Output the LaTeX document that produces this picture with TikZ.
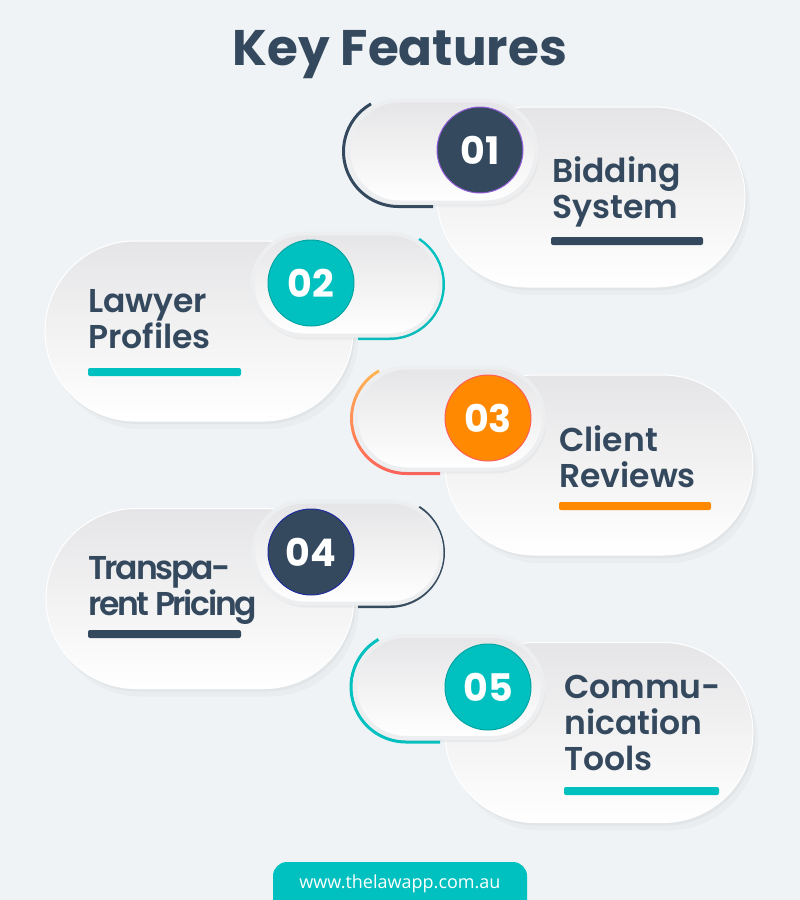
\documentclass[tikz,border=0pt]{standalone}
\usepackage{fontspec}
\setmainfont{Poppins}[BoldFont={Poppins Bold}]
\newfontfamily\semibold{Poppins SemiBold}
\newfontfamily\sitefont{Open Sans}
\usepackage{tikz}
\usetikzlibrary{shapes.misc,shadows}
\definecolor{backgr}{RGB}{240,243,246}
\definecolor{slate}{RGB}{52,73,94}
\definecolor{turq}{RGB}{0,193,191}
\definecolor{amber}{RGB}{255,137,0}
\definecolor{pillgray}{RGB}{229,229,231}
\definecolor{ringgray}{RGB}{236,238,240}
\definecolor{peach}{RGB}{255,190,85}
\definecolor{coral}{RGB}{255,94,90}
\definecolor{lilac}{RGB}{150,95,220}
\tikzset{>=stealth}
\tikzset{
  bigpill/.style={rounded rectangle, minimum width=308pt, minimum height=180pt, inner sep=0pt,
    top color=pillgray, bottom color=white, draw=white, line width=1pt,
    drop shadow={shadow xshift=5pt, shadow yshift=-8pt, opacity=0.05},
    drop shadow={shadow xshift=2pt, shadow yshift=-3pt, opacity=0.07}},
  smallpill/.style={rounded rectangle, minimum width=188pt, minimum height=102pt, inner sep=0pt,
    top color=pillgray, bottom color=white, draw=ringgray, line width=4pt,
    drop shadow={shadow xshift=2pt, shadow yshift=-4pt, opacity=0.08}},
  numdisc/.style={circle, minimum size=86pt, inner sep=0pt, text=white, line width=1pt,
    font=\bfseries\fontsize{38}{40}\selectfont},
  featuretext/.style={anchor=base west, align=left, inner sep=0pt, text=slate,
    font=\semibold\fontsize{33}{36}\selectfont},
  rim/.style={line width=3pt},
  underbar/.style={rounded corners=2pt}
}

\begin{document}
\begin{tikzpicture}[x=1pt,y=-1pt]
    \useasboundingbox (0,0) rectangle (800,900);
    \clip (0,0) rectangle (800,900);
    \fill[backgr] (0,0) rectangle (800,900);
    \node[anchor=base, text=slate, font=\bfseries\fontsize{50}{60}\selectfont] (title) at (400,65) {Key Features};

    \node[bigpill] (big1) at (591,197) {};
    \draw[rim,slate] (398.5,151.5) ++(240:55) arc[start angle=240, end angle=90, radius=55] -- ++(34.5,0);
    \node[smallpill] (small1) at (442.5,151.5) {};
    \node[numdisc, fill=slate, draw=lilac] (num1) at (480,150) {01};
    \node[featuretext] (text1) at (552,218) {Bidding\\System};
    \fill[slate, underbar] (551,237) rectangle (703,245);

    \node[bigpill] (big2) at (199,331) {};
    \draw[rim,turq] (389.5,284.5) ++(-57:54) arc[start angle=-57, end angle=90, radius=54] -- ++(-31.5,0);
    \node[smallpill] (small2) at (346.5,284.5) {};
    \node[numdisc, fill=turq, draw=turq!85!black] (num2) at (311,283) {02};
    \node[featuretext] (text2) at (88,348) {Lawyer\\Profiles};
    \fill[turq, underbar] (88,368) rectangle (241,376);

    \node[bigpill] (big3) at (599,465) {};
    \begin{scope}
      \clip (406.5,418.5) ++(240:56.5) arc[start angle=240, end angle=90, radius=56.5] -- (440,475) -- (440,472)
        -- (406.5,472) arc[start angle=90, end angle=240, radius=53.5] -- cycle;
      \shade[top color=peach, bottom color=coral] (340,360) rectangle (450,480);
    \end{scope}
    \node[smallpill] (small3) at (450,418.5) {};
    \node[numdisc, fill=amber, draw=coral] (num3) at (488,418) {03};
    \node[featuretext] (text3) at (559,487) {Client\\Reviews};
    \fill[amber, underbar] (559,502) rectangle (711,510);

    \node[bigpill] (big4) at (200,598.5) {};
    \draw[rim,slate] (389.5,552.5) ++(-57:54) arc[start angle=-57, end angle=90, radius=54] -- ++(-31.5,0);
    \node[smallpill] (small4) at (347.5,552.5) {};
    \node[numdisc, fill=slate, draw=blue!40!slate] (num4) at (311,552) {04};
    \node[featuretext, font=\semibold\fontsize{33}{33}\selectfont\addfontfeature{LetterSpace=-7}] (text4) at (88,615) {Transpa-\\rent Pricing};
    \fill[slate, underbar] (88,630) rectangle (241,638);

    \node[bigpill] (big5) at (599,732.5) {};
    \draw[rim,turq] (406,687) ++(240:55) arc[start angle=240, end angle=90, radius=55] -- ++(34,0);
    \node[smallpill] (small5) at (449,687) {};
    \node[numdisc, fill=turq, draw=turq!85!black] (num5) at (488,687) {05};
    \node[featuretext] (text5) at (564,770) {Commu-\\nication\\Tools};
    \fill[turq, underbar] (564,787) rectangle (719,795);

    \fill[turq, rounded corners=14pt] (273,862) rectangle (527,930);
    \node[anchor=base, text=white, font=\sitefont\fontsize{18}{20}\selectfont] (site) at (400,888) {www.thelawapp.com.au};
\end{tikzpicture}
\end{document}
